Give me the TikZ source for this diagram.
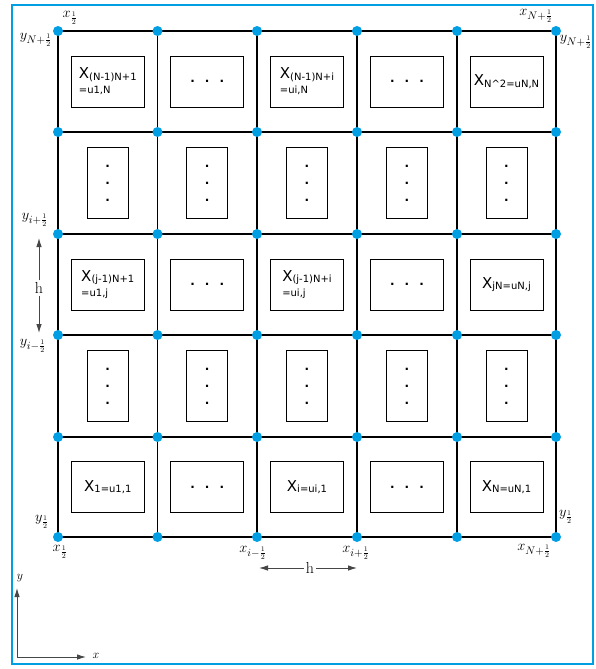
\documentclass[tikz,border=0pt]{standalone}
\usepackage{fontspec}
\usepackage{tikz}
\usetikzlibrary{arrows.meta, calc}
\newfontfamily\cellfont{DejaVu Sans}
\definecolor{gridblue}{RGB}{0,158,226}
\definecolor{arrowgray}{RGB}{70,70,70}
\newcommand\bigX{{\fontsize{15}{15}\selectfont X}}
\newcommand\lowsub[1]{\raisebox{-1.5pt}{#1}}

\begin{document}
\begin{tikzpicture}[x=1pt, y=-1pt, font=\fontsize{15}{17}\selectfont,
  >={Latex[length=9pt,width=5.5pt]},
  cell/.style={draw, line width=0.9pt, inner sep=0pt, align=left,
               minimum width=73pt, minimum height=51pt,
               font=\cellfont\fontsize{10}{15}\selectfont},
  dotcell/.style={cell, font=\cellfont\bfseries\fontsize{12}{12}\selectfont},
  tallcell/.style={draw, line width=0.9pt, inner sep=0pt, align=center,
               minimum width=41pt, minimum height=71pt,
               font=\cellfont\bfseries\fontsize{12}{17}\selectfont},
  gridline/.style={line width=1.1pt},
  endlabel/.style={inner sep=0.5pt},
  measure/.style={->, draw=arrowgray, line width=0.9pt}]

  \useasboundingbox (0,0) rectangle (596,669);
  \draw[gridblue, line width=1.2pt] (12,5) rectangle (593,664);

  % grid points, column i from the left, row j from the bottom
  \foreach \x [count=\i] in {58,157.5,257,357,457,556}
    \foreach \y [count=\j] in {537,437,335,234,132,31}
      \coordinate (g\i\j) at (\x,\y);
  \foreach \i in {1,...,5}
    \foreach \j in {1,...,5} {
      \pgfmathtruncatemacro\ii{\i+1}
      \pgfmathtruncatemacro\jj{\j+1}
      \coordinate (c\i\j) at ($(g\i\j)!.5!(g\ii\jj)$);
    }

  \foreach \k in {1,...,6} {
    \draw[gridline] (g\k1) -- (g\k6);
    \draw[gridline] (g1\k) -- (g6\k);
  }

  % cells
  \node[cell] (u11) at (c11) {\bigX\lowsub{1=u1,1}};
  \node[cell] (ui1) at (c31) {\bigX\lowsub{i=ui,1}};
  \node[cell] (uN1) at (c51) {\bigX\lowsub{N=uN,1}};
  \node[cell] (u1j) at (c13) {\bigX\lowsub{(j-1)N+1}\\=u1,j};
  \node[cell] (uij) at (c33) {\bigX\lowsub{(j-1)N+i}\\=ui,j};
  \node[cell] (uNj) at (c53) {\bigX\lowsub{jN=uN,j}};
  \node[cell] (u1N) at (c15) {\bigX\lowsub{(N-1)N+1}\\=u1,N};
  \node[cell] (uiN) at (c35) {\bigX\lowsub{(N-1)N+i}\\=ui,N};
  \node[cell] (uNN) at (c55) {\bigX\lowsub{N\textasciicircum2=uN,N}};
  \foreach \i in {2,4}
    \foreach \j in {1,3,5}
      \node[dotcell] (e\i\j) at (c\i\j) {.\hspace{10pt}.\hspace{10pt}.};
  \foreach \i in {1,...,5}
    \foreach \j in {2,4}
      \node[tallcell] (e\i\j) at (c\i\j) {.\\.\\.};

  \foreach \i in {1,...,6}
    \foreach \j in {1,...,6}
      \fill[gridblue] (g\i\j) circle (5);

  % end point labels
  \node[endlabel] (xtl) at (70,18)   {$x_{\frac{1}{2}}$};
  \node[endlabel] (ytl) at (36,40)   {$y_{N+\frac{1}{2}}$};
  \node[endlabel] (xtr) at (536,16)  {$x_{N+\frac{1}{2}}$};
  \node[endlabel] (ytr) at (576,42)  {$y_{N+\frac{1}{2}}$};
  \node[endlabel] (yip) at (35,220)  {$y_{i+\frac{1}{2}}$};
  \node[endlabel] (yim) at (33,346)  {$y_{i-\frac{1}{2}}$};
  \node[endlabel] (ybl) at (42,522)  {$y_{\frac{1}{2}}$};
  \node[endlabel] (xbl) at (60,552)  {$x_{\frac{1}{2}}$};
  \node[endlabel] (xim) at (253,553) {$x_{i-\frac{1}{2}}$};
  \node[endlabel] (xip) at (356,553) {$x_{i+\frac{1}{2}}$};
  \node[endlabel] (ybr) at (566,517) {$y_{\frac{1}{2}}$};
  \node[endlabel] (xbr) at (534,551) {$x_{N+\frac{1}{2}}$};

  % mesh width
  \node[inner sep=2pt, font=\fontsize{16}{16}\selectfont] (hv) at (39,288) {h};
  \node[inner sep=2pt, font=\fontsize{16}{16}\selectfont] (hh) at (310,568) {h};
  \coordinate (hvt) at (39,238);
  \coordinate (hvb) at (39,333);
  \coordinate (hhl) at (259,568);
  \coordinate (hhr) at (357,568);
  \draw[measure] (hv) -- (hvt);
  \draw[measure] (hv) -- (hvb);
  \draw[measure] (hh.west) -- (hhl);
  \draw[measure] (hh.east) -- (hhr);

  % axes
  \coordinate (o) at (17,657);
  \coordinate (ytip) at (17,588);
  \coordinate (xtip) at (86,657);
  \node[font=\fontsize{13}{13}\selectfont] (ay) at (20,578) {$y$};
  \node[font=\fontsize{13}{13}\selectfont] (ax) at (96,656) {$x$};
  \draw[measure] (o) -- (ytip);
  \draw[measure] (o) -- (xtip);
\end{tikzpicture}
\end{document}
